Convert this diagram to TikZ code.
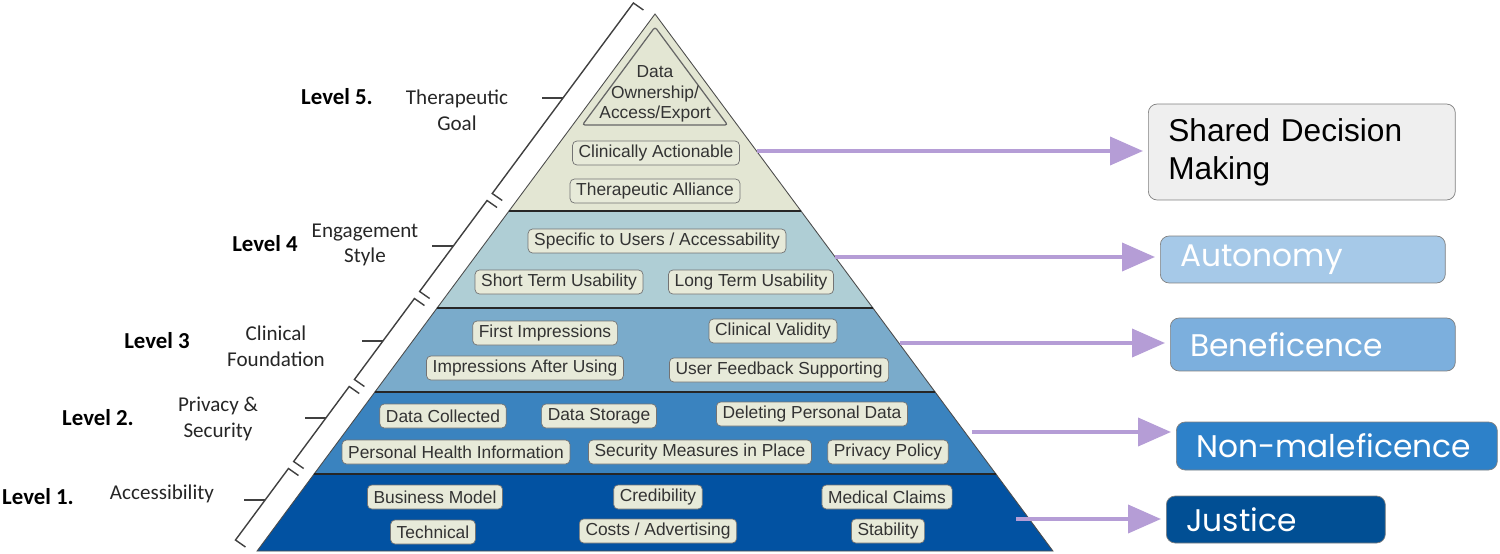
\documentclass[tikz,border=0pt]{standalone}
\usepackage{fontspec}
\setmainfont{Liberation Sans}
\newfontfamily\lblfont{Carlito}
\newfontfamily\valfont{Poppins}
\usetikzlibrary{arrows.meta, positioning}
\definecolor{lvlfivecol}{RGB}{227,230,211}
\definecolor{lvlfourcol}{RGB}{175,206,213}
\definecolor{lvlthreecol}{RGB}{122,171,203}
\definecolor{lvltwocol}{RGB}{58,131,191}
\definecolor{lvlonecol}{RGB}{2,82,162}
\definecolor{itemcol}{RGB}{231,234,217}
\definecolor{arrowcol}{RGB}{181,157,214}
\definecolor{sdmcol}{RGB}{239,239,239}
\definecolor{autocol}{RGB}{166,201,232}
\definecolor{benecol}{RGB}{124,175,221}
\definecolor{nonmcol}{RGB}{45,129,201}
\definecolor{justcol}{RGB}{1,79,148}

\begin{document}
\begin{tikzpicture}[
  x=0.02cm, y=-0.02cm,
  font=\fontsize{9.9}{11.6}\selectfont,
  item/.style={draw=black!55, fill=itemcol, rounded corners=2.5pt,
               inner xsep=3.5pt, inner ysep=0pt, minimum height=0.48cm,
               text=black!80},
  layer/.style={draw=black!70, line width=0.5pt},
  cut/.style={draw=black!85, line width=1.2pt},
  lvlname/.style={font=\lblfont\fontsize{13}{15}\selectfont\bfseries},
  lvltheme/.style={font=\lblfont\fontsize{12}{14.6}\selectfont,
                   align=center, text=black!85},
  brk/.style={draw=black!75, line width=0.8pt},
  arr/.style={-{Triangle[length=0.66cm,width=0.56cm]}, line width=2.2pt,
              arrowcol, shorten >=0.1cm},
  value/.style={draw=black!50, rounded corners=5pt, anchor=west,
                inner xsep=0.4cm, align=left, text=white,
                font=\valfont\fontsize{17.8}{21}\selectfont}
]
  \useasboundingbox (0,0) rectangle (1500,554);

  % pyramid layers
  \filldraw[layer, fill=lvlfivecol] (655,14) -- (801,211) -- (509,211) -- cycle;
  \filldraw[layer, fill=lvlfourcol] (509,211) -- (801,211) -- (872.9,308) -- (437.1,308) -- cycle;
  \filldraw[layer, fill=lvlthreecol] (437.1,308) -- (872.9,308) -- (935.1,392) -- (374.9,392) -- cycle;
  \filldraw[layer, fill=lvltwocol] (374.9,392) -- (935.1,392) -- (995.9,474) -- (314.1,474) -- cycle;
  \filldraw[layer, fill=lvlonecol] (314.1,474) -- (995.9,474) -- (1052.9,551) -- (257.1,551) -- cycle;
  \foreach \xl/\xr/\yc in {509/801/211, 437.1/872.9/308, 374.9/935.1/392, 314.1/995.9/474}
    \draw[cut] (\xl,\yc) -- (\xr,\yc);
  \draw[draw=black!60, line width=0.7pt, rounded corners=1.5pt]
    (655,27) -- (727.6,125) -- (582.4,125) -- cycle;

  % level 5
  \node[align=center, text=black!80] (own) at (655,94) {Data\\Ownership/\\Access/Export};
  \node[item] (act) at (656,153) {Clinically Actionable};
  \node[item] (all) at (655,191) {Therapeutic Alliance};
  % level 4
  \node[item] (spec) at (657,241) {Specific to Users / Accessability};
  \node[item] (short) at (559,282) {Short Term Usability};
  \node[item] (long) at (751,282) {Long Term Usability};
  % level 3
  \node[item] (first) at (545,333) {First Impressions};
  \node[item] (valid) at (773,331) {Clinical Validity};
  \node[item] (after) at (525,368) {Impressions After Using};
  \node[item] (feed) at (779,370) {User Feedback Supporting};
  % level 2
  \node[item] (coll) at (443,416) {Data Collected};
  \node[item] (stor) at (599,416) {Data Storage};
  \node[item] (del) at (812,414) {Deleting Personal Data};
  \node[item] (phi) at (456,452) {Personal Health Information};
  \node[item] (sec) at (700,452) {Security Measures in Place};
  \node[item] (pol) at (888,452) {Privacy Policy};
  % level 1
  \node[item] (biz) at (435,497) {Business Model};
  \node[item] (cred) at (658,497) {Credibility};
  \node[item] (med) at (887,497) {Medical Claims};
  \node[item] (tech) at (433,532) {Technical};
  \node[item] (cost) at (658,531) {Costs / Advertising};
  \node[item] (stab) at (888,531) {Stability};

  % brackets along the left side
  \foreach \ya/\yb/\yt in {3/193.5/98, 200.5/291.5/246, 298.5/379.5/341,
                           386.5/461.5/418, 468.5/540/500} {
    \pgfmathsetmacro\xa{563-0.741*(\ya-98)}
    \pgfmathsetmacro\xb{563-0.741*(\yb-98)}
    \pgfmathsetmacro\xt{563-0.741*(\yt-98)}
    \draw[brk] (\xa,\ya) ++(10,7) -- ++(-10,-7) -- (\xb,\yb) -- ++(10,7);
    \draw[brk] (\xt,\yt) -- ++(-21,0);
  }

  % level labels
  \node[lvlname] (n5) at (337,97) {Level 5.};
  \node[lvltheme] (t5) at (457,110) {Therapeutic\\Goal};
  \node[lvlname] (n4) at (265,244) {Level 4};
  \node[lvltheme] (t4) at (365,245) {Engagement\\Style};
  \node[lvlname] (n3) at (157,341) {Level 3};
  \node[lvltheme] (t3) at (276,346) {Clinical\\Foundation};
  \node[lvlname] (n2) at (98,418) {Level 2.};
  \node[lvltheme] (t2) at (218,419) {Privacy \&\\Security};
  \node[lvlname] (n1) at (38,497) {Level 1.};
  \node[lvltheme] (t1) at (162,494) {Accessibility};

  % principles
  \node[value, fill=sdmcol, text=black, text width=5.34cm, minimum height=1.92cm,
        font=\fontsize{18}{21.5}\selectfont] (sdm) at (1148,152) {Shared Decision\\Making};
  \node[value, fill=autocol, text width=4.9cm, minimum height=0.94cm] (auto) at (1160,259.5) {Autonomy};
  \node[value, fill=benecol, text width=4.9cm, minimum height=1.06cm] (bene) at (1170,344.5) {Beneficence};
  \node[value, fill=nonmcol, text width=5.62cm, minimum height=0.96cm] (nonm) at (1176,446) {\mbox{Non-maleficence}};
  \node[value, fill=justcol, text width=3.58cm, minimum height=0.94cm] (just) at (1166,519.5) {Justice};

  \coordinate (p5) at (757,151);
  \coordinate (p4) at (835,257);
  \coordinate (p3) at (900,343);
  \coordinate (p2) at (972,432);
  \coordinate (p1) at (1016,519);
  \draw[arr] (p5) -- (p5 -| sdm.west);
  \draw[arr] (p4) -- (p4 -| auto.west);
  \draw[arr] (p3) -- (p3 -| bene.west);
  \draw[arr] (p2) -- (p2 -| nonm.west);
  \draw[arr] (p1) -- (p1 -| just.west);
\end{tikzpicture}
\end{document}
